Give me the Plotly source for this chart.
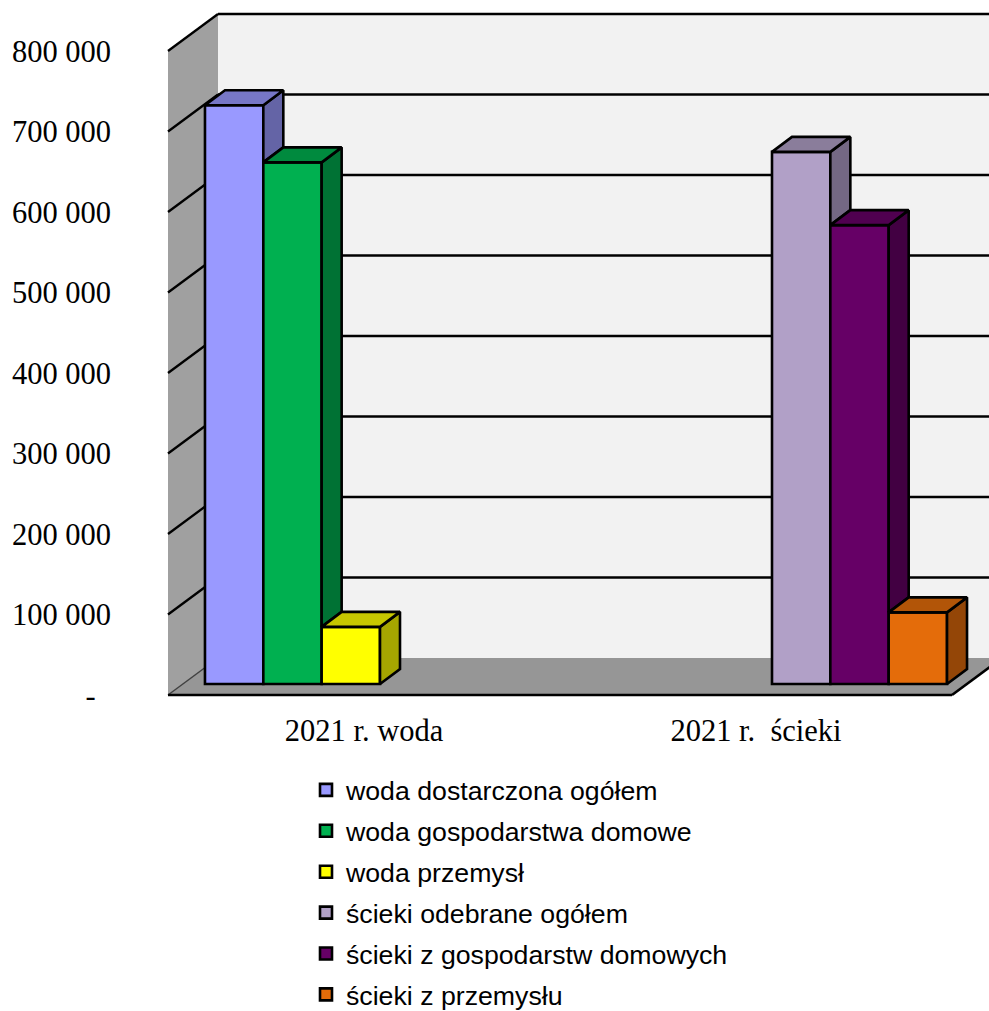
import plotly.graph_objects as go

# ---- data ----
categories = ["2021 r. woda", "2021 r.  ścieki"]
series_names = ["woda dostarczona ogółem", "woda gospodarstwa domowe", "woda przemysł",
                "ścieki odebrane ogółem", "ścieki z gospodarstw domowych", "ścieki z przemysłu"]
woda_ogolem = [719000, None]
woda_domowe = [648000, None]
woda_przemysl = [71000, None]
scieki_ogolem = [None, 661000]
scieki_domowe = [None, 570000]
scieki_przemysl = [None, 89000]
series_values = [woda_ogolem, woda_domowe, woda_przemysl, scieki_ogolem, scieki_domowe, scieki_przemysl]
tick_values = [0, 100000, 200000, 300000, 400000, 500000, 600000, 700000, 800000]
tick_labels = ["-\u00a0\u00a0", "100 000", "200 000", "300 000", "400 000", "500 000", "600 000", "700 000", "800 000"]

# ---- styling ----
front_colors = ["#9999ff", "#00b050", "#ffff00", "#b1a0c7", "#660066", "#e46c0a"]
top_colors = ["#7777c7", "#008a3e", "#c7c700", "#8a7d9b", "#500050", "#b25508"]
side_colors = ["#6464a6", "#007234", "#a6a600", "#746884", "#420042", "#944607"]
WALL, SIDE_WALL, FLOOR = "#f2f2f2", "#a0a0a0", "#969696"

# ---- oblique projection, in px of the figure ----
W, H = 989, 1011
PX_PER_CAT = 392.0
PX_PER_VAL = 80.5 / 100000
X0_PX, Y0_PX = 364.0, 695.0     # category 0 on the x axis, value 0 on the y axis
L_PX, B_PX = 160, 705           # plot area's left and bottom
dxu = lambda px: px / PX_PER_CAT
dyu = lambda px: px / PX_PER_VAL
WALL_DX, WALL_DY = dxu(50), dyu(37)
BAR_SHIFT_X, BAR_BASE = dxu(16), dyu(11)
BAR_DX, BAR_DY = dxu(20), dyu(15)
BARGAP = 0.107
BAR_W = (1 - BARGAP) / len(series_values)
AX_LEFT, AX_RIGHT = -0.5, 1.5
V_TOP = tick_values[-1]

fig = go.Figure()

# walls and floor
def poly(points, color):
    path = "M" + " L".join(f"{x},{y}" for x, y in points) + " Z"
    return dict(type="path", path=path, xref="x", yref="y", fillcolor=color, line_width=0, layer="below")

def seg(x0, y0, x1, y1, width=2.3, color="#000000"):
    return dict(type="line", x0=x0, y0=y0, x1=x1, y1=y1, xref="x", yref="y",
                line=dict(color=color, width=width), layer="below")

shapes = [
    poly([(AX_LEFT + WALL_DX, WALL_DY), (AX_RIGHT + WALL_DX, WALL_DY),
          (AX_RIGHT + WALL_DX, V_TOP + WALL_DY), (AX_LEFT + WALL_DX, V_TOP + WALL_DY)], WALL),
    poly([(AX_LEFT, 0), (AX_LEFT + WALL_DX, WALL_DY), (AX_LEFT + WALL_DX, V_TOP + WALL_DY), (AX_LEFT, V_TOP)], SIDE_WALL),
    poly([(AX_LEFT, 0), (AX_RIGHT, 0), (AX_RIGHT + WALL_DX, WALL_DY), (AX_LEFT + WALL_DX, WALL_DY)], FLOOR),
]
for v in tick_values[1:]:
    shapes.append(seg(AX_LEFT, v, AX_LEFT + WALL_DX, v + WALL_DY))
    shapes.append(seg(AX_LEFT + WALL_DX, v + WALL_DY, AX_RIGHT + WALL_DX, v + WALL_DY))
shapes.append(seg(AX_LEFT, 0, AX_LEFT + WALL_DX, WALL_DY, 1.5, "#404040"))
shapes.append(seg(AX_LEFT, 0, AX_RIGHT, 0, 2.6))
shapes.append(seg(AX_RIGHT, 0, AX_RIGHT + WALL_DX, WALL_DY, 2.6))

EDGE = 2.6
# front faces
for i, (name, vals) in enumerate(zip(series_names, series_values)):
    fig.add_trace(go.Bar(
        x=[c + BAR_SHIFT_X for c in range(len(categories))], y=vals, base=BAR_BASE, name=name,
        legendgroup=name, marker=dict(color=front_colors[i], line=dict(color="#000000", width=EDGE)),
        hoverinfo="skip",
    ))

# top and side faces
for i, vals in enumerate(series_values):
    for c, v in enumerate(vals):
        if v is None:
            continue
        xl = c + BAR_SHIFT_X - (1 - BARGAP) / 2 + i * BAR_W
        xr = xl + BAR_W
        top = BAR_BASE + v
        # the neighbour on the right hides the lower part of the side face
        nxt = series_values[i + 1][c] if i + 1 < len(series_values) else None
        low = BAR_BASE + (nxt or 0)
        fig.add_trace(go.Scatter(
            x=[xr, xr + BAR_DX, xr + BAR_DX, xr, xr], y=[top, top + BAR_DY, low + BAR_DY, low, top],
            mode="lines", fill="toself", fillcolor=side_colors[i],
            line=dict(color="#000000", width=EDGE), showlegend=False, hoverinfo="skip"))
        fig.add_trace(go.Scatter(
            x=[xl, xl + BAR_DX, xr + BAR_DX, xr, xl], y=[top, top + BAR_DY, top + BAR_DY, top, top],
            mode="lines", fill="toself", fillcolor=top_colors[i],
            line=dict(color="#000000", width=EDGE), showlegend=False, hoverinfo="skip"))

serif = dict(family="Liberation Serif", size=30.5, color="#000000")
fig.update_layout(
    width=W, height=H, autosize=False, barmode="group", bargap=BARGAP, bargroupgap=0,
    margin=dict(l=L_PX, r=0, t=0, b=H - B_PX, pad=0),
    paper_bgcolor="#ffffff", plot_bgcolor="#ffffff", shapes=shapes,
    xaxis=dict(range=[dxu(L_PX - X0_PX), dxu(W - X0_PX)], tickmode="array",
               tickvals=list(range(len(categories))), ticktext=categories,
               showgrid=False, zeroline=False, showline=False, ticks="", tickfont=serif, ticklabelstandoff=4,
               fixedrange=True),
    yaxis=dict(range=[dyu(Y0_PX - B_PX), dyu(Y0_PX)], tickmode="array", tickvals=tick_values, ticktext=tick_labels,
               showgrid=False, zeroline=False, showline=False, ticks="", tickfont=serif, ticklabelstandoff=48,
               fixedrange=True),
    legend=dict(x=(306 - L_PX) / (W - L_PX), xanchor="left", y=1 - 766 / H, yanchor="top",
                yref="container", font=dict(family="Liberation Sans", size=26.7, color="#000000"),
                tracegroupgap=3.2, bgcolor="rgba(0,0,0,0)"),
    showlegend=True,
)
fig.write_html("out.html", config=dict(displayModeBar=False),
               post_script="document.body.style.margin='0';document.documentElement.style.overflow='hidden';")
